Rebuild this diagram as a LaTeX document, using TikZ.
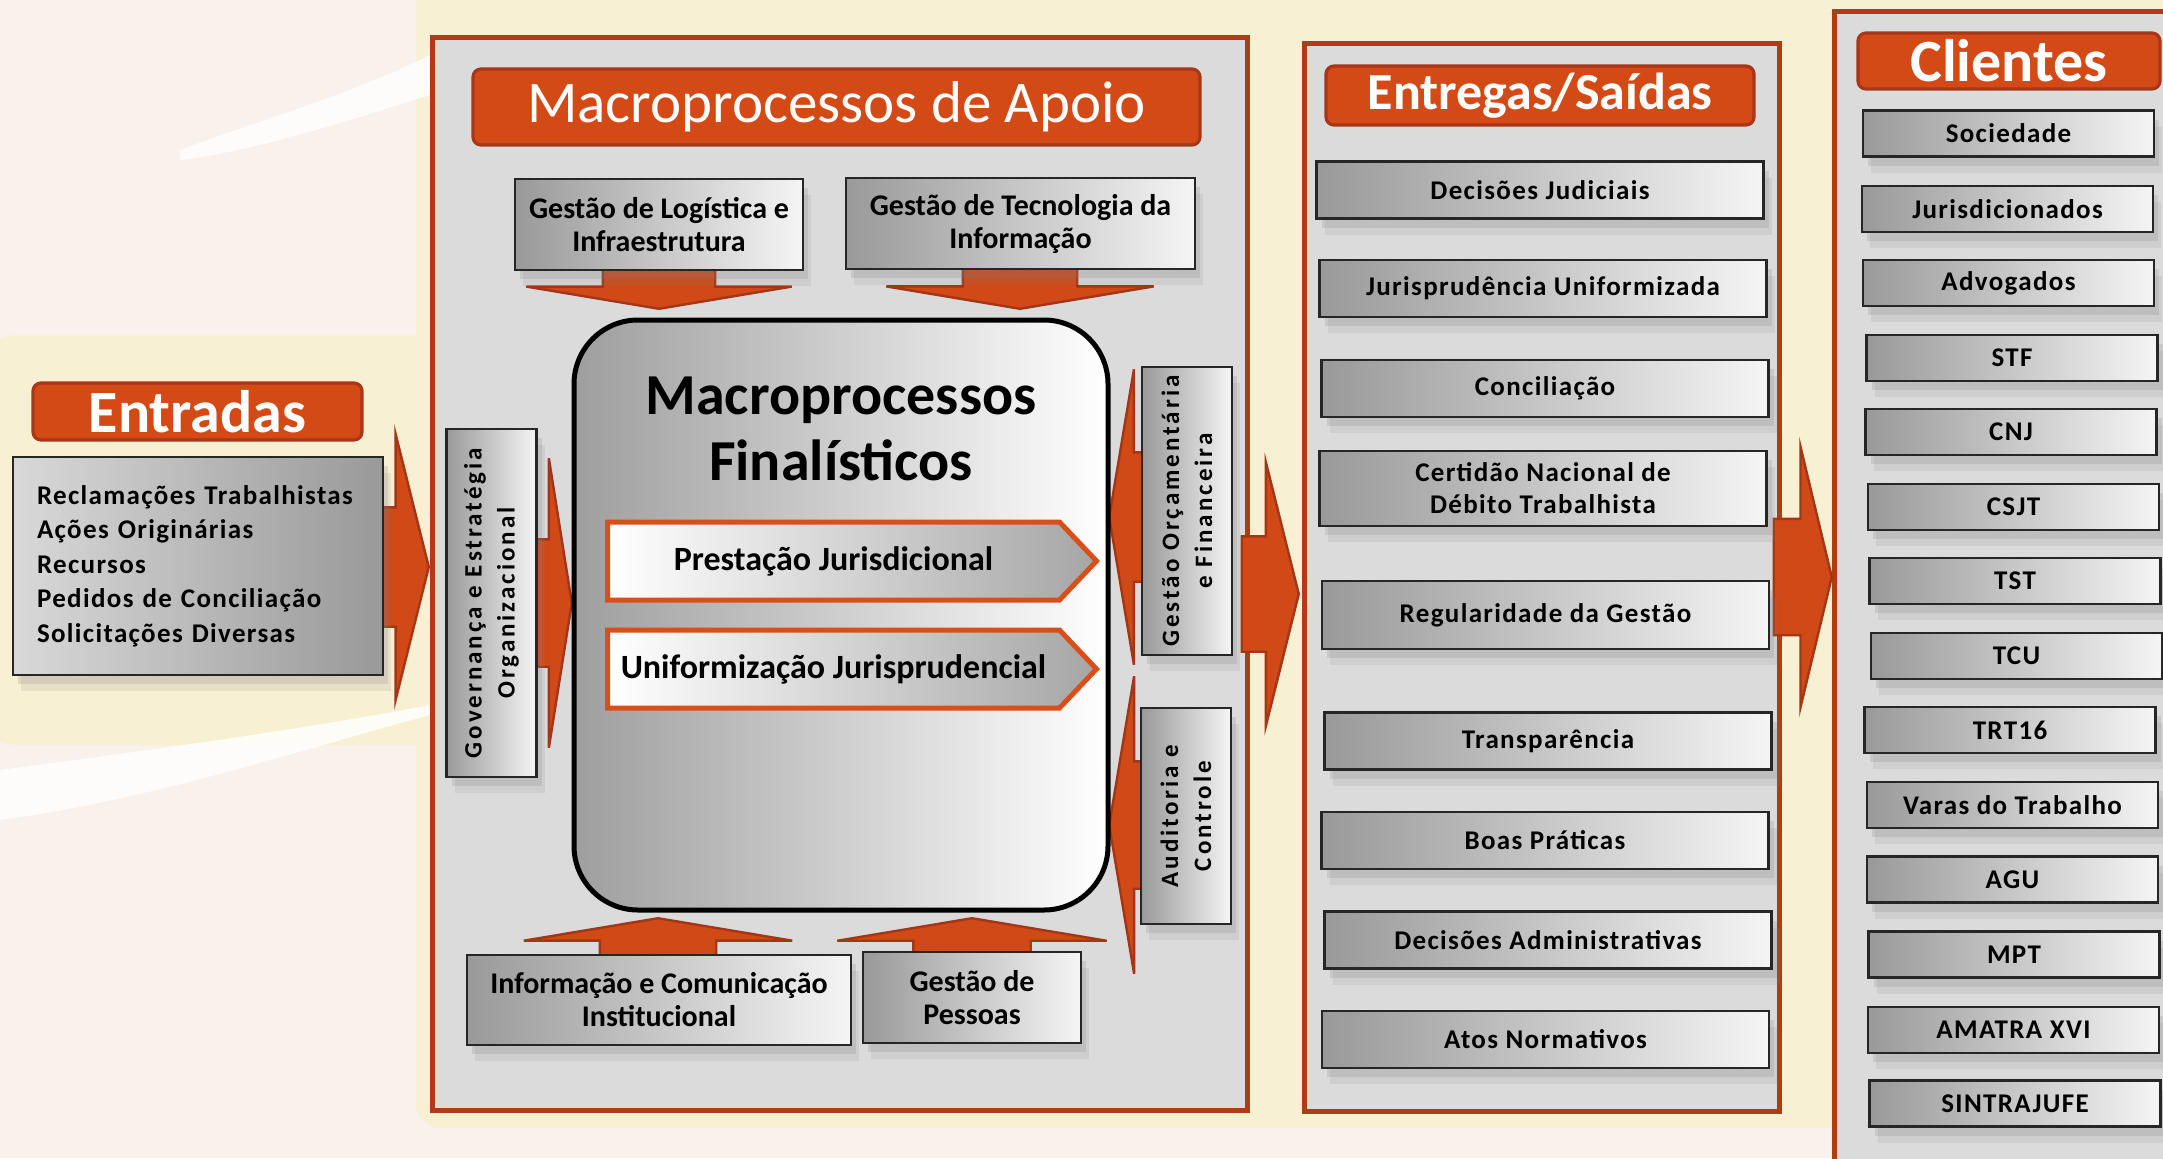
\documentclass[tikz,border=0pt]{standalone}
\usepackage{fontspec}
\setmainfont{Carlito}
\newfontfamily\itmfont[LetterSpace=5]{Carlito}
\newfontfamily\sidfont[LetterSpace=12]{Carlito}
\usetikzlibrary{shapes.arrows,shapes.symbols,shadows}
\definecolor{rim}{HTML}{B03C17}
\definecolor{titleor}{HTML}{D34A17}
\definecolor{titlerim}{HTML}{A8361A}
\definecolor{panelgrey}{HTML}{DBDBDB}
\definecolor{creambg}{HTML}{F8F0D2}
\definecolor{palebg}{HTML}{F9F1EC}
\definecolor{arrowor}{HTML}{D14916}
\definecolor{arrowrim}{HTML}{A33616}
\definecolor{chevor}{HTML}{DA4E1A}

\begin{document}
\begin{tikzpicture}[x=0.5pt,y=-0.5pt,
    panel/.style={draw=rim,line width=2.5pt,fill=panelgrey,inner sep=0pt},
    ttl/.style={rounded corners=4pt,draw=titlerim,line width=1.6pt,fill=titleor,
                text=white,inner sep=0pt},
    gbox/.style={draw=black!85,line width=1.2pt,left color=black!40,right color=black!4,
                 inner sep=0pt,align=center,
                 drop shadow={opacity=.14,shadow xshift=4pt,shadow yshift=-8pt},
                 drop shadow={opacity=.2,shadow xshift=2.5pt,shadow yshift=-4.5pt}},
    sub/.style={gbox,font=\bfseries\fontsize{15}{16.5}\selectfont,minimum height=45.5pt},
    side/.style={gbox,rotate=90,font=\fontsize{12.5}{16.5}\sidfont\bfseries,minimum height=45pt},
    itm/.style={gbox,font=\fontsize{13.5}{16}\itmfont\bfseries},
    outbox/.style={itm,minimum width=223.5pt,minimum height=28.5pt},
    cli/.style={itm,minimum width=145.5pt,minimum height=23pt},
    chev/.style={signal,signal to=east,signal pointer angle=93,draw=chevor,line width=2.5pt,
                 left color=white,right color=black!35,minimum width=244.5pt,minimum height=39pt,
                 inner sep=0pt,anchor=west,font=\bfseries\fontsize{17}{20}\selectfont},
    blk/.style={single arrow,fill=arrowor,draw=arrowrim,line width=1.2pt,inner xsep=0pt,anchor=tip}]
  \useasboundingbox (0,0) rectangle (2163,1158);
  \clip (0,0) rectangle (2163,1158);

  % background
  \fill[palebg] (0,0) rectangle (2163,1158);
  \fill[creambg,rounded corners=30pt] (-40,335) rectangle (470,745);
  \fill[creambg,rounded corners=12pt] (416,-20) rectangle (2200,1128);
  \fill[white,opacity=.8] (180,150) .. controls (260,120) and (350,95) .. (430,55)
    -- (430,95) .. controls (350,120) and (260,150) .. (180,160) -- cycle;
  \fill[white,opacity=.8] (0,770) .. controls (150,750) and (300,730) .. (430,705)
    -- (430,715) .. controls (300,750) and (150,800) .. (0,820) -- cycle;

  % panels
  \node[panel,minimum width=407.5pt,minimum height=536.5pt] (apoio) at (839.5,573.5) {};
  \node[panel,minimum width=237.5pt,minimum height=534pt] (entregas) at (1541.5,577) {};
  \node[panel,minimum width=173pt,minimum height=582pt] (clientes) at (2007,593) {};

  % block arrows
  \node[blk,single arrow tip angle=152,single arrow head extend=36.75pt,inner ysep=29.25pt,
        minimum height=29pt] (aIn) at (430,567) {};
  \node[blk,single arrow tip angle=152,single arrow head extend=37pt,inner ysep=28.25pt,
        minimum height=28.5pt] (aOut) at (1300,594) {};
  \node[blk,single arrow tip angle=153,single arrow head extend=36pt,inner ysep=28.5pt,
        minimum height=29pt] (aCli) at (1833,577) {};
  \node[blk,single arrow tip angle=162,single arrow head extend=40.5pt,inner ysep=31.25pt,
        minimum height=21.5pt] (aGov) at (573,603) {};
  \node[blk,rotate=180,single arrow tip angle=161,single arrow head extend=41.5pt,inner ysep=31.75pt,
        minimum height=21pt] (aOrc) at (1108,517) {};
  \node[blk,rotate=180,single arrow tip angle=161,single arrow head extend=42.5pt,inner ysep=31.25pt,
        minimum height=21pt] (aAud) at (1108,825) {};
  \node[blk,rotate=270,single arrow tip angle=161,single arrow head extend=38.25pt,inner ysep=27.5pt,
        minimum height=20pt] (aLog) at (659,310) {};
  \node[blk,rotate=270,single arrow tip angle=161,single arrow head extend=38.25pt,inner ysep=28pt,
        minimum height=20pt] (aTec) at (1020,310) {};
  \node[blk,rotate=90,single arrow tip angle=161,single arrow head extend=38pt,inner ysep=28.5pt,
        minimum height=19.5pt] (aInf) at (658,917) {};
  \node[blk,rotate=90,single arrow tip angle=161,single arrow head extend=38pt,inner ysep=28.75pt,
        minimum height=19pt] (aPes) at (972,917) {};

  % entradas
  \node[ttl,minimum width=164.5pt,minimum height=28.5pt,font=\bfseries\fontsize{30}{36}\selectfont]
    (entT) at (197.5,411.5) {Entradas};
  \node[gbox,left color=black!15,right color=black!40,align=left,text width=161pt,inner xsep=12pt,
        minimum height=109pt,font=\fontsize{13.5}{17.25}\itmfont\bfseries] (lst) at (198,566)
    {Reclamações Trabalhistas\\Ações Originárias\\Recursos\\Pedidos de Conciliação\\Solicitações Diversas};

  % macroprocessos
  \node[ttl,minimum width=363.5pt,minimum height=38pt,font=\fontsize{29.5}{35}\selectfont]
    (apoT) at (836.5,107) {Macroprocessos de Apoio};
  \node[draw=black,line width=2.5pt,rounded corners=32pt,left color=black!38,right color=white,
        minimum width=267pt,minimum height=295pt,inner sep=0pt] (fin) at (841,615) {};
  \node[font=\bfseries\fontsize{29}{33}\selectfont,align=center] (finT) at (841,429)
    {Macroprocessos\\Finalísticos};
  \node[chev] (pj) at (605,561) {Prestação Jurisdicional};
  \node[chev] (uj) at (605,669) {Uniformização Jurisprudencial};

  \node[sub,minimum width=144pt] (logi) at (659,224.5) {Gestão de Logística e\\Infraestrutura};
  \node[sub,minimum width=174.5pt] (tecn) at (1020.5,223.5) {Gestão de Tecnologia da\\Informação};
  \node[sub,minimum width=192pt,minimum height=45pt] (info) at (659,1000)
    {Informação e Comunicação\\Institucional};
  \node[sub,minimum width=109pt] (pess) at (972,997.5) {Gestão de\\Pessoas};
  \node[side,minimum width=174pt] (gov) at (491.5,603) {Governança e Estratégia\\Organizacional};
  \node[side,minimum width=144pt] (orca) at (1187,511) {Gestão Orçamentária\\e Financeira};
  \node[side,minimum width=108pt] (audi) at (1186,816) {Auditoria e\\Controle};

  % entregas
  \node[ttl,minimum width=214pt,minimum height=29.5pt,font=\bfseries\fontsize{26}{31}\selectfont]
    (entrT) at (1540,95.5) {Entregas/Saídas};
  \node[outbox] (dj) at (1540,190) {Decisões Judiciais};
  \node[outbox] (ju) at (1543,288.5) {Jurisprudência Uniformizada};
  \node[outbox] (co) at (1545,388.5) {Conciliação};
  \node[outbox,minimum height=37.5pt] (cn) at (1543,488.5) {Certidão Nacional de\\Débito Trabalhista};
  \node[outbox,minimum height=34pt] (rg) at (1545.5,615) {Regularidade da Gestão};
  \node[outbox] (tr) at (1548,741) {Transparência};
  \node[outbox] (bp) at (1545,840.5) {Boas Práticas};
  \node[outbox] (da) at (1548,940) {Decisões Administrativas};
  \node[outbox] (an) at (1545.5,1039.5) {Atos Normativos};

  % clientes
  \node[ttl,minimum width=151pt,minimum height=28pt,font=\bfseries\fontsize{30}{36}\selectfont]
    (cliT) at (2009,61) {Clientes};
  \node[cli] (soc) at (2008.5,133.5) {Sociedade};
  \node[cli] (jur) at (2007.5,209) {Jurisdicionados};
  \node[cli] (adv) at (2008.5,283) {Advogados};
  \node[cli] (stf) at (2012,358) {STF};
  \node[cli] (cnj) at (2011,432) {CNJ};
  \node[cli] (csjt) at (2013.5,507) {CSJT};
  \node[cli] (tst) at (2015,581) {TST};
  \node[cli] (tcu) at (2016.5,656) {TCU};
  \node[cli] (trt) at (2010,730) {TRT16};
  \node[cli] (var) at (2012.5,805) {Varas do Trabalho};
  \node[cli] (agu) at (2012.5,879.5) {AGU};
  \node[cli] (mpt) at (2014,954.5) {MPT};
  \node[cli] (ama) at (2013.5,1030) {AMATRA XVI};
  \node[cli] (sin) at (2015,1103.5) {SINTRAJUFE};
\end{tikzpicture}
\end{document}
